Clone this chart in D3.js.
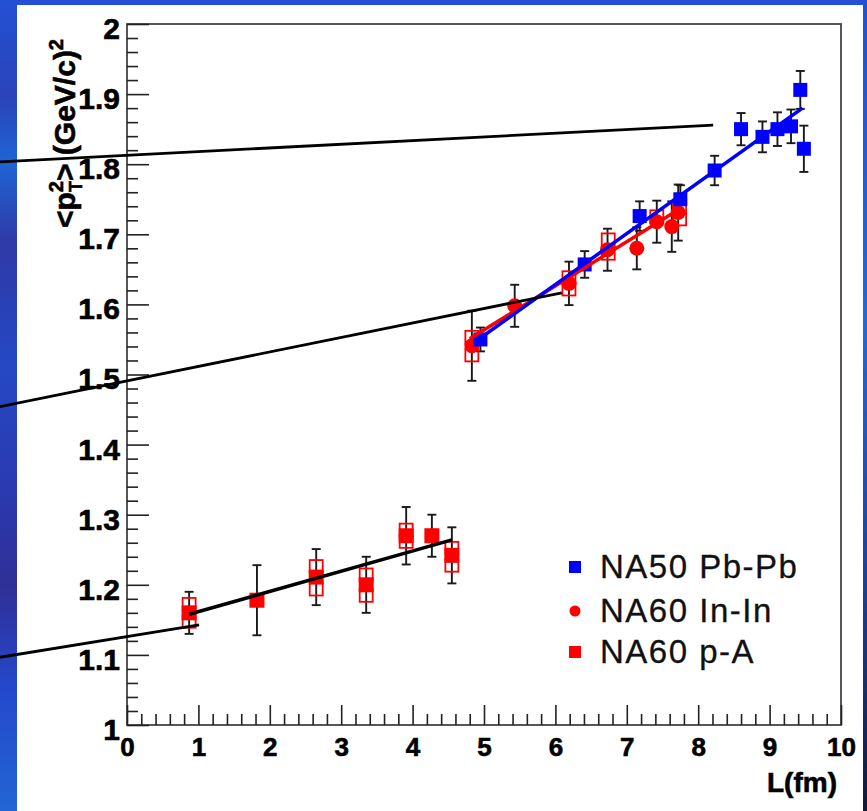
<!DOCTYPE html>
<html>
<head>
<meta charset="utf-8">
<script src="https://cdn.jsdelivr.net/npm/d3@7"></script>
<style>
  html, body { margin: 0; padding: 0; background: #2350d4; }
  svg { display: block; }
</style>
</head>
<body>
<svg width="867" height="811"></svg>
<script>
// NA50 Pb-Pb (blue squares)
const pbL   = [4.95, 6.41, 7.18, 7.75, 8.23, 8.60, 8.90, 9.11, 9.30, 9.43, 9.48];
const pbV   = [1.550, 1.657, 1.726, 1.750, 1.791, 1.850, 1.839, 1.850, 1.854, 1.906, 1.822];
const pbErr = [0.017, 0.019, 0.021, 0.020, 0.021, 0.023, 0.022, 0.024, 0.024, 0.027, 0.033];

// NA60 In-In (red circles)
const inL   = [4.83, 5.43, 6.19, 6.73, 7.14, 7.42, 7.63, 7.72];
const inV   = [1.541, 1.598, 1.630, 1.678, 1.680, 1.718, 1.711, 1.731];
const inErr = [0.050, 0.030, 0.031, 0.030, 0.030, 0.030, 0.036, 0.040];
const inSysL = [4.83, 4.83, 6.19, 6.19, 6.74, 6.74, 7.42, 7.74, 7.74];
const inSysV = [1.553, 1.528, 1.638, 1.622, 1.692, 1.673, 1.725, 1.738, 1.722];

// NA60 p-A (red squares)
const paL   = [0.87, 1.82, 2.65, 3.35, 3.91, 4.27, 4.55];
const paV   = [1.160, 1.178, 1.211, 1.200, 1.270, 1.270, 1.242];
const paErr = [0.030, 0.050, 0.040, 0.040, 0.041, 0.030, 0.040];
const paSysL = [0.87, 0.87, 2.65, 2.65, 3.35, 3.35, 3.91, 3.91, 4.55, 4.55];
const paSysV = [1.172, 1.148, 1.226, 1.194, 1.214, 1.185, 1.278, 1.262, 1.252, 1.228];

// fits
const fitPaL = [0.87, 4.55], fitPaV = [1.158, 1.264];
const fitInL = [4.80, 7.74], fitInV = [1.551, 1.736];
const fitPbL = [4.95, 9.46], fitPbV = [1.552, 1.880];

// black extrapolation lines
const extA_L = [-1.78, 1.01], extA_V = [1.0966, 1.1427];
const extB_L = [-1.78, 6.09], extB_V = [1.4541, 1.6166];
const extC_L = [-1.78, 8.21], extC_V = [1.8034, 1.8558];

const xMajor = [0, 1, 2, 3, 4, 5, 6, 7, 8, 9, 10];
const yMajor = [1, 1.1, 1.2, 1.3, 1.4, 1.5, 1.6, 1.7, 1.8, 1.9, 2];
const legendNames = ["NA50 Pb-Pb", "NA60 In-In", "NA60 p-A"];

const svg = d3.select("svg");
const defs = svg.append("defs");

// background gradients
const gl = defs.append("linearGradient").attr("id", "bgL").attr("x1", 0).attr("y1", 0).attr("x2", 0).attr("y2", 1);
[[0, "#2350d4"], [0.12, "#2a44b8"], [0.2, "#1f64d4"], [0.3, "#2f3aa6"], [0.45, "#2548c4"],
 [0.6, "#2a3ab0"], [0.72, "#302f96"], [0.85, "#2448cc"], [1, "#2266d4"]]
  .forEach(s => gl.append("stop").attr("offset", s[0]).attr("stop-color", s[1]));
const gr = defs.append("linearGradient").attr("id", "bgR").attr("x1", 0).attr("y1", 0).attr("x2", 0).attr("y2", 1);
[[0, "#2250d4"], [0.4, "#1f6ad8"], [0.7, "#2040a0"], [1, "#141836"]]
  .forEach(s => gr.append("stop").attr("offset", s[0]).attr("stop-color", s[1]));

svg.append("rect").attr("width", 867).attr("height", 811).attr("fill", "url(#bgL)");
svg.append("rect").attr("x", 855).attr("width", 12).attr("height", 811).attr("fill", "url(#bgR)");
svg.append("rect").attr("x", 17).attr("y", 5).attr("width", 846).attr("height", 806).attr("fill", "#fff");

const x = d3.scaleLinear().domain([0, 10]).range([127, 841]);
const y = d3.scaleLinear().domain([1, 2]).range([725, 24]);

const font = "'Liberation Sans', Arial, Helvetica, sans-serif";

// frame
svg.append("rect").attr("x", x(0)).attr("y", y(2)).attr("width", x(10) - x(0)).attr("height", y(1) - y(2))
  .attr("fill", "none").attr("stroke", "#444").attr("stroke-width", 1.8);

// minor ticks
const xMinor = d3.range(0, 50).map(i => i * 0.2).filter(v => Math.abs(v - Math.round(v)) > 1e-6);
const yMinor = d3.range(0, 50).map(i => 1 + i * 0.02).filter(v => Math.abs(v * 10 - Math.round(v * 10)) > 1e-6);

svg.append("g").attr("transform", `translate(0,${y(1)})`)
  .call(d3.axisBottom(x).tickValues(xMinor).tickSize(-11).tickFormat(""))
  .call(g => g.select(".domain").remove())
  .call(g => g.selectAll("line").attr("stroke", "#222").attr("stroke-width", 1.6));
svg.append("g").attr("transform", `translate(${x(0)},0)`)
  .call(d3.axisLeft(y).tickValues(yMinor).tickSize(-11).tickFormat(""))
  .call(g => g.select(".domain").remove())
  .call(g => g.selectAll("line").attr("stroke", "#222").attr("stroke-width", 1.6));

// major ticks + labels
svg.append("g").attr("transform", `translate(0,${y(1)})`)
  .call(d3.axisBottom(x).tickValues(xMajor).tickSize(-20).tickPadding(13).tickFormat(d3.format("d")))
  .call(g => g.select(".domain").remove())
  .call(g => g.selectAll("line").attr("stroke", "#222").attr("stroke-width", 1.6))
  .call(g => g.selectAll("text").attr("fill", "#000").attr("stroke", "#000").attr("stroke-width", 0.6)
    .style("font", `bold 26px ${font}`));
svg.append("g").attr("transform", `translate(${x(0)},0)`)
  .call(d3.axisLeft(y).tickValues(yMajor).tickSize(-22).tickPadding(7).tickFormat(d => d3.format(".1~f")(d)))
  .call(g => g.select(".domain").remove())
  .call(g => g.selectAll("line").attr("stroke", "#222").attr("stroke-width", 1.6))
  .call(g => g.selectAll("text").attr("fill", "#000").attr("stroke", "#000").attr("stroke-width", 0.6)
    .attr("dy", "0.48em").style("font", `bold 30px ${font}`));

// axis titles
svg.append("text").attr("x", 837).attr("y", 792).attr("text-anchor", "end")
  .attr("stroke", "#000").attr("stroke-width", 0.6)
  .style("font", `bold 28px ${font}`).text("L(fm)");

const yt = svg.append("text").attr("transform", "translate(75,228) rotate(-90)")
  .attr("stroke", "#000").attr("stroke-width", 0.6)
  .style("font", `bold 30px ${font}`);
yt.append("tspan").text("<p");
yt.append("tspan").attr("dy", -12).style("font-size", "20px").text("2");
yt.append("tspan").attr("dx", -11).attr("dy", 19).style("font-size", "18px").text("T");
yt.append("tspan").attr("dy", -7).text("> (GeV/c)");
yt.append("tspan").attr("dy", -12).style("font-size", "20px").text("2");

const plot = svg.append("g");

function errBars(L, V, E) {
  const g = plot.append("g").attr("stroke", "#1a1a1a").attr("stroke-width", 1.9);
  L.forEach((l, i) => {
    const cx = x(l), y0 = y(V[i] - E[i]), y1 = y(V[i] + E[i]);
    g.append("line").attr("x1", cx).attr("x2", cx).attr("y1", y0).attr("y2", y1);
    g.append("line").attr("x1", cx - 4.5).attr("x2", cx + 4.5).attr("y1", y0).attr("y2", y0);
    g.append("line").attr("x1", cx - 4.5).attr("x2", cx + 4.5).attr("y1", y1).attr("y2", y1);
  });
}
errBars(paL, paV, paErr);
errBars(inL, inV, inErr);
errBars(pbL, pbV, pbErr);

function openSquares(L, V) {
  plot.append("g").selectAll("rect").data(L).join("rect")
    .attr("x", d => x(d) - 6.5).attr("y", (d, i) => y(V[i]) - 6.5)
    .attr("width", 13).attr("height", 13)
    .attr("fill", "none").attr("stroke", "#ff0000").attr("stroke-width", 1.8);
}
openSquares(paSysL, paSysV);
openSquares(inSysL, inSysV);

function squares(L, V, color, s) {
  plot.append("g").selectAll("rect").data(L).join("rect")
    .attr("x", d => x(d) - s / 2).attr("y", (d, i) => y(V[i]) - s / 2)
    .attr("width", s).attr("height", s).attr("fill", color);
}
squares(paL, paV, "#ff0000", 15);
plot.append("g").selectAll("circle").data(inL).join("circle")
  .attr("cx", d => x(d)).attr("cy", (d, i) => y(inV[i])).attr("r", 7.5).attr("fill", "#ff0000");
squares(pbL, pbV, "#0000ff", 14);

// lines
const line = d3.line().x(d => x(d[0])).y(d => y(d[1]));
function drawLine(L, V, color, w) {
  svg.append("path").datum(d3.zip(L, V)).attr("d", line)
    .attr("fill", "none").attr("stroke", color).attr("stroke-width", w);
}
drawLine(fitPaL, fitPaV, "#000", 3.5);
drawLine(fitInL, fitInV, "#ff0000", 3.5);
drawLine(fitPbL, fitPbV, "#0000ff", 3.5);
drawLine(extA_L, extA_V, "#000", 2.8);
drawLine(extB_L, extB_V, "#000", 2.8);
drawLine(extC_L, extC_V, "#000", 2.8);

// legend
const leg = svg.append("g");
const legY = [567, 611, 652];
leg.append("rect").attr("x", 569).attr("y", legY[0] - 6).attr("width", 12).attr("height", 12).attr("fill", "#0000ff");
leg.append("circle").attr("cx", 575).attr("cy", legY[1]).attr("r", 5.5).attr("fill", "#ff0000");
leg.append("rect").attr("x", 569).attr("y", legY[2] - 6).attr("width", 12).attr("height", 12).attr("fill", "#ff0000");
leg.selectAll("text").data(legendNames).join("text")
  .attr("x", 600).attr("y", (d, i) => legY[i] + 11)
  .style("font", `33px ${font}`).style("letter-spacing", "1.5px")
  .attr("fill", "#111").attr("stroke", "#111").attr("stroke-width", 0.3).text(d => d);
</script>
</body>
</html>
